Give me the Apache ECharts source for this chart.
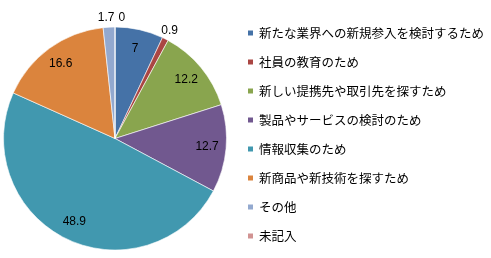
<!DOCTYPE html>
<html><head><meta charset="utf-8">
<script src="https://cdn.jsdelivr.net/npm/echarts@6/dist/echarts.min.js"></script>
<style>html,body{margin:0;padding:0;background:#fff}#c{width:491px;height:258px}</style>
</head><body><div id="c"></div>
<script>
var categories = ['新たな業界への新規参入を検討するため','社員の教育のため','新しい提携先や取引先を探すため','製品やサービスの検討のため','情報収集のため','新商品や新技術を探すため','その他','未記入'];
var values = [7, 0.9, 12.2, 12.7, 48.9, 16.6, 1.7, 0];
var colors = ['#4572A7','#AA4643','#89A54E','#71588F','#4198AF','#DB843D','#93A9CF','#D19392'];

var center = [115, 138.5];
var font = 'Liberation Sans, DejaVu Sans, sans-serif';
var mainData = categories.map(function(n,i){ return {name:n, value:values[i], itemStyle:{color:colors[i]}}; });
function nextIsZero(i){ return i + 1 < values.length && values[i + 1] === 0; }
function labelData(showFn){
  return categories.map(function(n,i){
    var lab = {show:showFn(values[i], i)};
    if (nextIsZero(i)) lab.padding = [0,0,0,6];
    return {name:n, value:values[i], itemStyle:{color:'rgba(0,0,0,0)'}, label:lab};
  });
}
// Zero-value sectors get no label of their own in ECharts; its value is appended to the preceding small slice's label.
function smallLabel(p){
  var i = p.dataIndex;
  if (nextIsZero(i)) return '{a|' + p.value + '}{b|' + values[i + 1] + '}';
  return '{a|' + p.value + '}';
}
var chart = echarts.init(document.getElementById('c'));
chart.setOption({
  animation:false,
  color: colors,
  legend:{
    orient:'vertical', left:246, top:26, padding:0,
    itemWidth:7, itemHeight:7, itemGap:15, icon:'rect',
    textStyle:{fontSize:12.5, fontFamily:'Noto Sans CJK JP', color:'#000', lineHeight:14},
    data: categories
  },
  series:[
    {type:'pie', center:center, radius:[0,111.5], startAngle:90, clockwise:true,
     avoidLabelOverlap:false, label:{show:false}, labelLine:{show:false},
     itemStyle:{borderColor:'#fff', borderWidth:0.6},
     emphasis:{disabled:true}, data:mainData},
    {type:'pie', center:center, radius:[71,108], startAngle:90, silent:true,
     avoidLabelOverlap:false, labelLine:{show:false},
     label:{position:'inside', color:'#000', fontSize:12, fontFamily:font, formatter:'{c}'},
     emphasis:{disabled:true}, data:labelData(function(v){return v>=5;})},
    {type:'pie', center:center, radius:[108,128], startAngle:90, silent:true,
     avoidLabelOverlap:false, labelLine:{show:false},
     label:{position:'inside', color:'#000', fontSize:12, fontFamily:font, formatter:smallLabel,
            rich:{a:{color:'#000', fontSize:12, fontFamily:font},
                  b:{color:'#000', fontSize:12, fontFamily:font, padding:[0,0,0,4]}}},
     emphasis:{disabled:true}, data:labelData(function(v){return v>0 && v<5;})}
  ]
});
</script></body></html>
